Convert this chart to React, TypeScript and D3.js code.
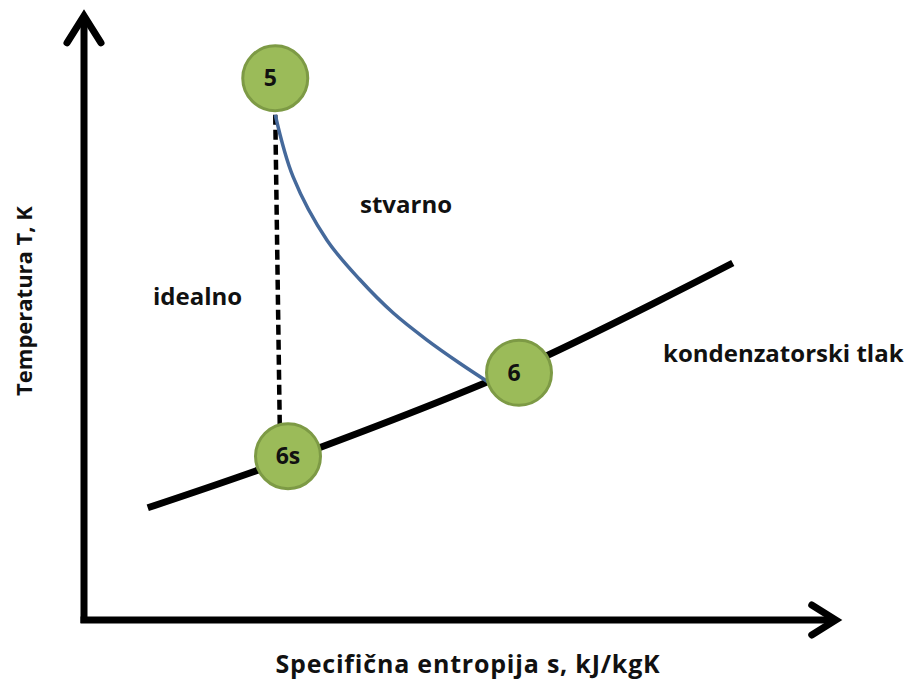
import React from "react";
import * as d3 from "d3";

// Axis extents (data units)
const AXIS_MAX_S = 10.05;
const AXIS_MAX_T = 10.12;

// Condensation pressure line (s, T)
const condenserS = [0.85, 2.88, 5.81, 8.65];
const condenserT = [1.87, 2.75, 4.2, 5.95];

// Real expansion (stvarno) 5 -> 6
const realS = [2.55, 2.79, 3.24, 3.68, 4.12, 4.57, 5.01, 5.41];
const realT = [8.42, 7.38, 6.33, 5.67, 5.12, 4.67, 4.28, 3.95];

// Ideal expansion (idealno) 5 -> 6s
const idealS = [2.55, 2.61];
const idealT = [8.42, 3.25];

// State points
const stateLabels = ["5", "6s", "6"];
const stateS = [2.55, 2.72, 5.8];
const stateT = [9.03, 2.73, 4.12];

const W = 909;
const H = 684;
const FONT = "'Open Sans', 'DejaVu Sans', sans-serif";

export default function App() {
  const x = d3.scaleLinear().domain([0, 10]).range([84, 834]);
  const y = d3.scaleLinear().domain([0, 10]).range([620, 20]);

  const line = d3
    .line<[number, number]>()
    .x((d) => x(d[0]))
    .y((d) => y(d[1]));
  const smooth = d3
    .line<[number, number]>()
    .x((d) => x(d[0]))
    .y((d) => y(d[1]))
    .curve(d3.curveCatmullRom.alpha(0.5));

  const cond = condenserS.map((s, i) => [s, condenserT[i]] as [number, number]);
  const real = realS.map((s, i) => [s, realT[i]] as [number, number]);
  const ideal = idealS.map((s, i) => [s, idealT[i]] as [number, number]);

  const x0 = x(0);
  const y0 = y(0);
  const xTip = x(AXIS_MAX_S);
  const yTip = y(AXIS_MAX_T);

  return (
    <svg
      width={W}
      height={H}
      style={{ position: "absolute", left: 0, top: 0, background: "#fff" }}
    >
      <rect width={W} height={H} fill="#fff" />
      {/* axes */}
      <g stroke="#000" strokeWidth={7} fill="none" strokeLinecap="butt" strokeLinejoin="miter">
        <path d={`M${x0},${y0 + 3} L${x0},${yTip + 4}`} />
        <path d={`M${x0 - 3.5},${y0} L${xTip - 4},${y0}`} />
        <path d={`M${x0 - 17},${yTip + 30} L${x0},${yTip + 3} L${x0 + 17},${yTip + 30}`} strokeLinecap="round" />
        <path d={`M${xTip - 26},${y0 - 15} L${xTip - 2},${y0} L${xTip - 26},${y0 + 15}`} strokeLinecap="round" />
      </g>
      {/* condenser pressure line */}
      <path d={smooth(cond) || ""} stroke="#000" strokeWidth={7} fill="none" strokeLinecap="butt" />
      {/* ideal expansion */}
      <path d={line(ideal) || ""} stroke="#000" strokeWidth={4.5} fill="none" strokeDasharray="10,5" />
      {/* real expansion */}
      <path d={smooth(real) || ""} stroke="#45699b" strokeWidth={3.5} fill="none" />
      {/* state points */}
      {stateLabels.map((lab, i) => (
        <g key={lab}>
          <circle cx={x(stateS[i])} cy={y(stateT[i])} r={32.5} fill="#9bbb59" stroke="#7d9a45" strokeWidth={3} />
          <text
            x={x(stateS[i]) - (lab === "6s" ? 0 : 5)}
            y={y(stateT[i])}
            dy="0.36em"
            textAnchor="middle"
            fontFamily={FONT}
            fontWeight={700}
            fontSize={23}
            fill="#111"
          >
            {lab}
          </text>
        </g>
      ))}
      {/* annotations */}
      <g fontFamily={FONT} fontWeight={700} fontSize={24} fill="#111">
        <text x={360} y={213}>stvarno</text>
        <text x={153} y={305}>idealno</text>
        <text x={663} y={362}>kondenzatorski tlak</text>
        <text x={468} y={673} textAnchor="middle" fontSize={25} letterSpacing={0.8}>
          Specifična entropija s, kJ/kgK
        </text>
        <text transform="translate(32,301) rotate(-90)" textAnchor="middle" fontSize={22}>
          Temperatura T, K
        </text>
      </g>
    </svg>
  );
}
